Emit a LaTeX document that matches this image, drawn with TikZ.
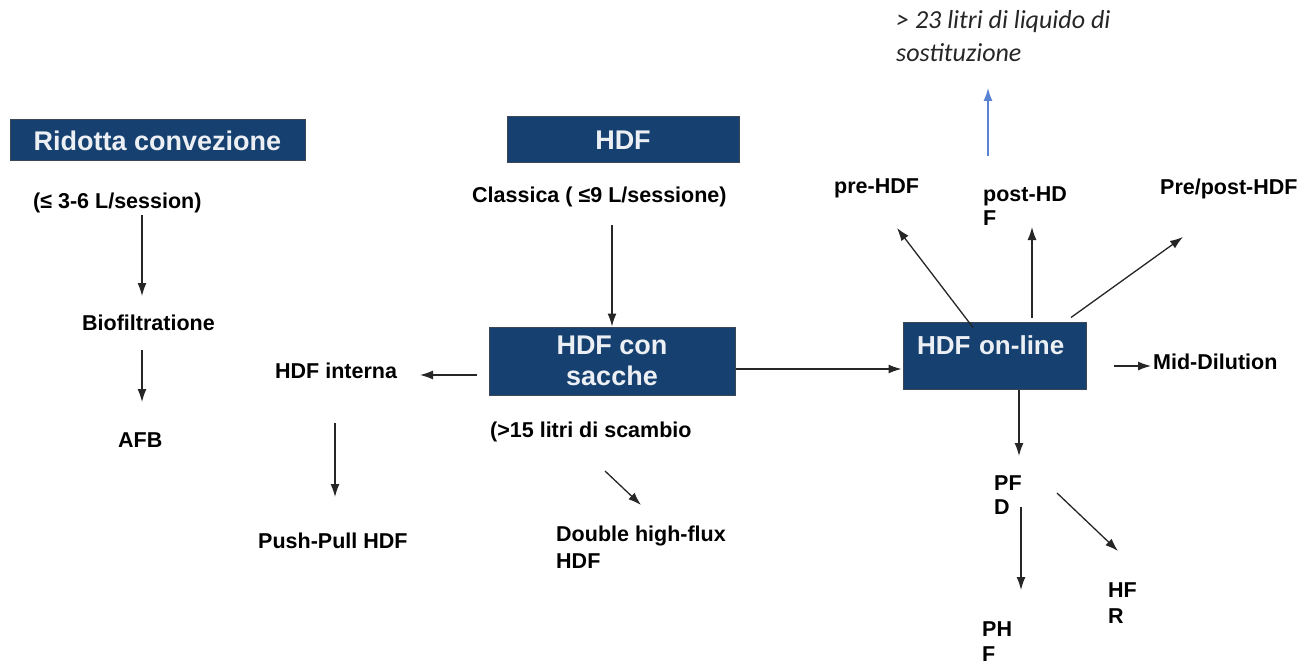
\documentclass[tikz,border=0pt]{standalone}
\usepackage{fontspec}
\setmainfont{Liberation Sans}
\newfontfamily\liqfont{Carlito}
\usetikzlibrary{arrows.meta,calc}
\definecolor{boxblue}{RGB}{22,64,112}
\definecolor{boxedge}{RGB}{60,70,85}
\definecolor{arrblue}{RGB}{90,130,210}
\begin{document}
\begin{tikzpicture}[x=1pt,y=-1pt,
  box/.style={draw=boxedge, line width=1pt, fill=boxblue, text=white!92!boxblue, font=\fontsize{27}{31}\selectfont\bfseries, inner sep=0pt, align=center},
  lbl/.style={font=\fontsize{21.5}{25}\selectfont\bfseries, inner sep=0pt, anchor=west, align=left},
  arr/.style={-{Latex[length=13pt,width=9pt]}, line width=1.3pt, black!85},
  barr/.style={-{Latex[length=13pt,width=9pt]}, line width=1.4pt, arrblue}]
\useasboundingbox (0,0) rectangle (1315,666);
% boxes
\node[box, minimum width=295, minimum height=41] (ridotta) at (157.5,140.5) {Ridotta convezione};
\node[box, minimum width=232, minimum height=46] (hdf) at (623,140) {HDF};
\node[box, minimum width=246, minimum height=68] (sacche) at (612,361) {HDF con\\sacche};
\node[box, minimum width=183, minimum height=67, text width=155, align=left, font=\fontsize{26}{30}\selectfont\bfseries, text height=20, text depth=22] (online) at (994.5,355.5) {HDF on-line};
% labels
\node[lbl] (sess) at (33,203) {(≤ 3-6 L/session)};
\node[lbl] (bio) at (82,323) {Biofiltratione};
\node[lbl] (afb) at (118,440) {AFB};
\node[lbl] (cla) at (472,197) {Classica ( ≤9 L/sessione)};
\node[lbl] (int) at (275,371) {HDF interna};
\node[lbl] (push) at (258,541) {Push-Pull HDF};
\node[lbl] (scamb) at (490,432) {(>15 litri di scambio};
\node[lbl, font=\fontsize{21.5}{27}\selectfont\bfseries] (dhf) at (556,547) {Double high-flux\\HDF};
\node[lbl] (pre) at (834,188) {pre-HDF};
\node[lbl, font=\fontsize{21.5}{24}\selectfont\bfseries] (post) at (983,206) {post-HD\\F};
\node[lbl] (prepost) at (1160,189) {Pre/post-HDF};
\node[lbl] (mid) at (1153,362) {Mid-Dilution};
\node[lbl, font=\fontsize{21.5}{24}\selectfont\bfseries] (pfd) at (994,495) {PF\\D};
\node[lbl, font=\fontsize{21.5}{26}\selectfont\bfseries] (hfr) at (1108,603) {HF\\R};
\node[lbl, font=\fontsize{21.5}{25}\selectfont\bfseries] (phf) at (982,642) {PH\\F};
\node[inner sep=0pt, anchor=west, align=left, font=\liqfont\itshape\fontsize{26}{33}\selectfont, text=black!85] (liq) at (896,36) {> 23 litri di liquido di\\sostituzione};
\coordinate (bluestart) at (988,156);
% connectors
\draw[arr] ($(sess.west)+(109,12)$) -- ($(bio.west)+(60,-27)$);
\draw[arr] ($(bio.west)+(60,27)$) -- ($(afb.west)+(24,-38)$);
\draw[arr] ($(cla.west)+(140,28)$) -- (sacche.north);
\draw[arr] ($(sacche.west)+(-12,14)$) -- ($(int.west)+(145,4)$);
\draw[arr] ($(int.west)+(60,52)$) -- ($(push.west)+(77,-44)$);
\draw[arr] ($(scamb.west)+(115,39)$) -- ($(dhf.west)+(85,-42)$);
\draw[arr] ($(sacche.east)+(0,8)$) -- ($(online.west)+(-1,13.5)$);
\draw[arr] ($(online.north)+(-21.5,6)$) -- ($(pre.west)+(63,40)$);
\draw[arr] ($(online.north)+(37.5,-4)$) -- ($(post.west)+(49,21)$);
\draw[arr] ($(online.north)+(76.5,-4)$) -- ($(prepost.west)+(23,48)$);
\draw[arr] ($(online.east)+(27,10.5)$) -- ($(mid.west)+(-2,4)$);
\draw[arr] ($(online.south)+(24.5,0)$) -- ($(pfd.west)+(25,-39)$);
\draw[arr] ($(pfd.west)+(27,12)$) -- ($(phf.west)+(39,-52)$);
\draw[arr] ($(pfd.west)+(63,-2)$) -- ($(hfr.west)+(10,-52)$);
\draw[barr] (bluestart) -- ($(liq.west)+(92,52)$);
\end{tikzpicture}
\end{document}
